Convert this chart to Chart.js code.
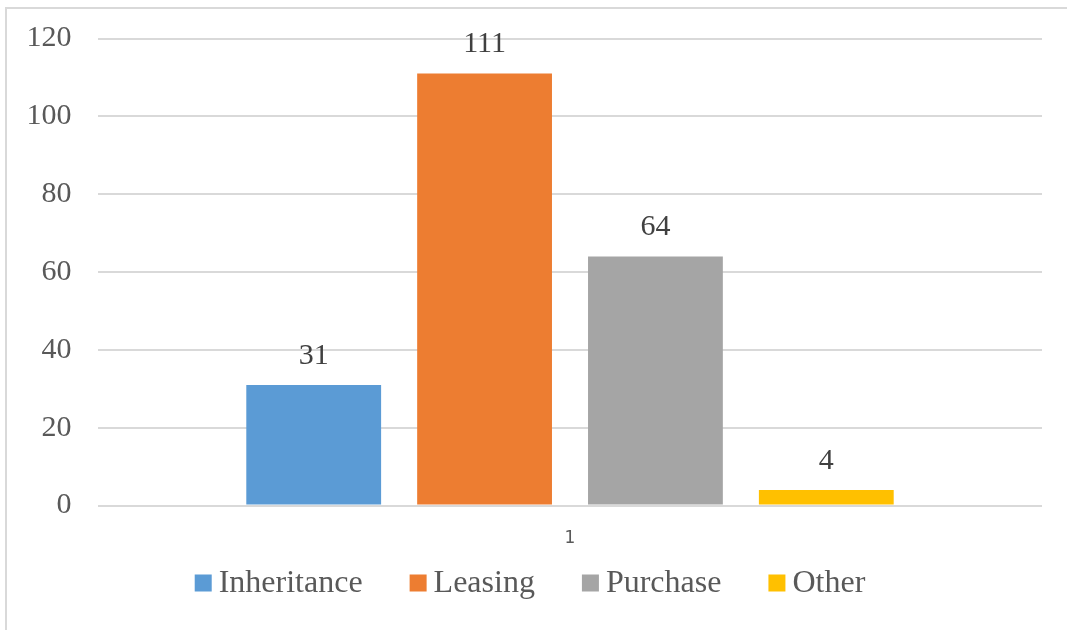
<!DOCTYPE html>
<html>
<head>
<meta charset="utf-8">
<script src="https://cdn.jsdelivr.net/npm/chart.js@4"></script>
<style>
  html, body { margin: 0; padding: 0; background: #fff; }
  #wrap { width: 1067px; height: 630px; position: relative; }
</style>
</head>
<body>
<div id="wrap"><canvas id="c"></canvas></div>
<script>
// ── データ ──────────────────────────────
const categories = ["1"];
const seriesNames = ["Inheritance", "Leasing", "Purchase", "Other"];
const inheritance = [31];
const leasing = [111];
const purchase = [64];
const other = [4];
const yTicks = [0, 20, 40, 60, 80, 100, 120];

const colors = ["#5B9BD5", "#ED7D31", "#A5A5A5", "#FFC000"];
const SERIF = "'Liberation Serif', 'Times New Roman', serif";

// 値ラベル
const valueLabels = {
  id: "valueLabels",
  afterDatasetsDraw(chart) {
    const ctx = chart.ctx;
    ctx.save();
    ctx.font = "30px " + SERIF;
    ctx.fillStyle = "#404040";
    ctx.textAlign = "center";
    ctx.textBaseline = "middle";
    chart.data.datasets.forEach((ds, i) => {
      chart.getDatasetMeta(i).data.forEach((bar, j) => {
        ctx.fillText(String(ds.data[j]), bar.x, bar.y - 29);
      });
    });
    ctx.restore();
  },
};

// 凡例（下部・手描き）
const bottomLegend = {
  id: "bottomLegend",
  afterDraw(chart) {
    const ctx = chart.ctx;
    const box = 17, textGap = 7, itemGap = 47;
    const y = 583;
    ctx.save();
    ctx.font = "32px " + SERIF;
    ctx.textBaseline = "middle";
    const items = chart.data.datasets.map((ds) => ({
      label: ds.label,
      color: ds.backgroundColor,
      w: ctx.measureText(ds.label).width,
    }));
    const total = items.reduce((s, it) => s + box + textGap + it.w, 0) + itemGap * (items.length - 1);
    let x = 530 - total / 2;
    items.forEach((it) => {
      ctx.fillStyle = it.color;
      ctx.fillRect(x, y - box / 2, box, box);
      x += box + textGap;
      ctx.fillStyle = "#595959";
      ctx.fillText(it.label, x, y + 1);
      x += it.w + itemGap;
    });
    ctx.restore();
  },
};

// 外枠
const frame = {
  id: "frame",
  beforeDraw(chart) {
    const ctx = chart.ctx;
    ctx.save();
    ctx.strokeStyle = "#d9d9d9";
    ctx.lineWidth = 2;
    ctx.strokeRect(6, 8, 1080, 640);
    ctx.restore();
  },
};

const data = [inheritance, leasing, purchase, other];

new Chart(document.getElementById("c"), {
  type: "bar",
  plugins: [valueLabels, bottomLegend, frame],
  data: {
    labels: categories,
    datasets: seriesNames.map((name, i) => ({
      label: name,
      data: data[i],
      backgroundColor: colors[i],
      categoryPercentage: 0.724,
      barPercentage: 0.789,
    })),
  },
  options: {
    responsive: true,
    maintainAspectRatio: false,
    animation: false,
    layout: { padding: { left: 0, right: 25, top: 0, bottom: 66 } },
    plugins: {
      tooltip: { enabled: false },
      legend: { display: false },
    },
    scales: {
      x: {
        grid: { display: false },
        border: { display: false },
        ticks: {
          color: "#595959",
          font: { family: "'DejaVu Sans', sans-serif", size: 17 },
          padding: 15,
        },
      },
      y: {
        min: 0,
        max: 120,
        afterBuildTicks: (axis) => { axis.ticks = yTicks.map((v) => ({ value: v })); },
        grid: { color: "#d9d9d9", lineWidth: 2, drawTicks: false },
        border: { display: false },
        ticks: {
          color: "#595959",
          font: { family: SERIF, size: 30, lineHeight: 0.8 },
          padding: 26.5,
        },
      },
    },
  },
});
</script>
</body>
</html>
